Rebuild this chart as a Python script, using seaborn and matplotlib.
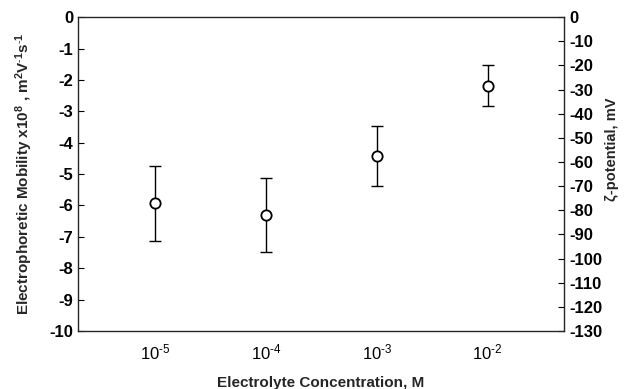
import matplotlib
matplotlib.use("Agg")
import matplotlib.pyplot as plt
import numpy as np
import pandas as pd
import seaborn as sns

# data
concentration = [1e-5, 1e-4, 1e-3, 1e-2]
mobility = [-5.92, -6.30, -4.43, -2.20]
err_upper = [-4.75, -5.11, -3.46, -1.53]
err_lower = [-7.12, -7.49, -5.39, -2.83]
x_tick_labels = [r"$10^{\text{-}5}$", r"$10^{\text{-}4}$", r"$10^{\text{-}3}$", r"$10^{\text{-}2}$"]

df = pd.DataFrame({"conc": concentration, "mob": mobility})

sns.set_style("white")
plt.rcParams["font.family"] = ["Liberation Sans", "DejaVu Sans"]
plt.rcParams["axes.unicode_minus"] = False
plt.rcParams["mathtext.fontset"] = "custom"
plt.rcParams["mathtext.rm"] = "Liberation Sans"
plt.rcParams["mathtext.bf"] = "Liberation Sans:bold"
plt.rcParams["mathtext.default"] = "rm"

fig = plt.figure(figsize=(6.44, 3.89), dpi=100)
ax = fig.add_axes([0.121, 0.149, 0.755, 0.807])

yerr = np.array([np.array(mobility) - np.array(err_lower), np.array(err_upper) - np.array(mobility)])
ax.errorbar(concentration, mobility, yerr=yerr, fmt="none", ecolor="black", elinewidth=1.0, capsize=4, capthick=1.0)
sns.scatterplot(data=df, x="conc", y="mob", ax=ax, marker="o", s=55, facecolors="white", edgecolor="black", linewidth=1.3, zorder=3)

ax.set_xscale("log")
ax.set_xlim(10 ** -5.70, 10 ** -1.31)
ax.set_ylim(-10, 0)
ax.set_xticks(concentration)
ax.set_xticklabels(x_tick_labels)
ax.minorticks_off()
ax.set_yticks(range(-10, 1))
ax.tick_params(direction="in", length=4, width=0.8, labelsize=12, colors="black")
ax.tick_params(axis="x", pad=8)
for lab in ax.get_yticklabels():
    lab.set_fontweight("bold")

ax.set_xlabel("Electrolyte Concentration, M", fontsize=11, fontweight="bold", labelpad=10)
ax.set_ylabel(r"Electrophoretic Mobility x10$^{\mathbf{8}}$ , m$^{\mathbf{2}}$V$^{\mathbf{\text{-}1}}$s$^{\mathbf{\text{-}1}}$",
              fontsize=11, fontweight="bold", labelpad=10)
for side in ax.spines.values():
    side.set_color("black")
    side.set_linewidth(0.9)

ax2 = ax.twinx()
ax2.set_ylim(-130, 0)
ax2.set_yticks(range(-130, 1, 10))
ax2.tick_params(direction="in", length=4, width=0.8, labelsize=12, colors="black")
for lab in ax2.get_yticklabels():
    lab.set_fontweight("bold")
ax2.set_ylabel("ζ-potential, mV", fontsize=10.5, fontweight="bold", rotation=90)
ax2.yaxis.set_label_coords(1.085, 0.58)

fig.savefig("out.png", dpi=100)
